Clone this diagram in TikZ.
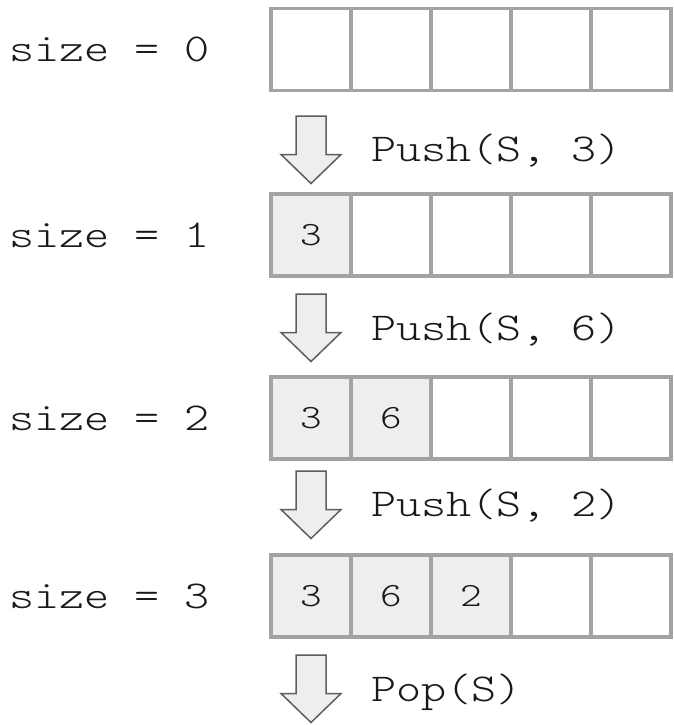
\documentclass[tikz,border=0pt]{standalone}
\usepackage{fontspec}
% light typewriter face, widened to a Courier-like advance
\newfontfamily\codefont[Extension=.otf, FakeStretch=1.21]{lmmonolt10-regular}
\definecolor{cellline}{HTML}{A3A3A3}
\definecolor{cellfill}{HTML}{EEEEEE}
\definecolor{arrowline}{HTML}{5E5E5E}
\definecolor{ink}{HTML}{1A1A1A}
\begin{document}
\begin{tikzpicture}[x=1pt,y=-1pt,
  cell/.style={draw=cellline, line width=3.6pt, minimum width=80pt,
    minimum height=82pt, inner sep=0pt, text=ink,
    font=\fontsize{34}{40}\selectfont\codefont},
  used/.style={fill=cellfill},
  sizelabel/.style={anchor=west, inner sep=0pt, text=ink,
    font=\fontsize{39.5}{48}\selectfont\codefont},
  oplabel/.style={anchor=base west, inner sep=0pt, text=ink,
    font=\fontsize{39.5}{48}\selectfont\codefont},
  oparrow/.pic={
    \draw[draw=arrowline, fill=cellfill, line width=1.5pt, line join=miter]
      (-15,0) -- (15,0) -- (15,38.5) -- (30,38.5) -- (0,67.5)
      -- (-30,38.5) -- (-15,38.5) -- cycle;
  }]
\useasboundingbox (0,0) rectangle (674,725);

% stack states: row centre y, size, stored values
\foreach \r/\cy/\vals in {0/49.6/{},1/235/{3},2/418/{3,6},3/596/{3,6,2}} {
  \node[sizelabel] (size\r) at (9,\cy) {size = \r};
  \foreach \i in {1,...,5} {
    \node[cell] (c\r\i) at ({311+80*(\i-1)},\cy) {};
  }
  \foreach \v [count=\k] in \vals {
    \node[cell,used] (v\r\k) at ({311+80*(\k-1)},\cy) {\v};
  }
}

% operations between the states
\pic at (311,116) {oparrow};
\node[oplabel] (op1) at (371,161.5) {Push(S, 3)};
\pic at (311,294) {oparrow};
\node[oplabel] (op2) at (371,340) {Push(S, 6)};
\pic at (311,471) {oparrow};
\node[oplabel] (op3) at (371,516.5) {Push(S, 2)};
\pic at (311,655) {oparrow};
\node[oplabel] (op4) at (371,701) {Pop(S)};
\end{tikzpicture}
\end{document}
